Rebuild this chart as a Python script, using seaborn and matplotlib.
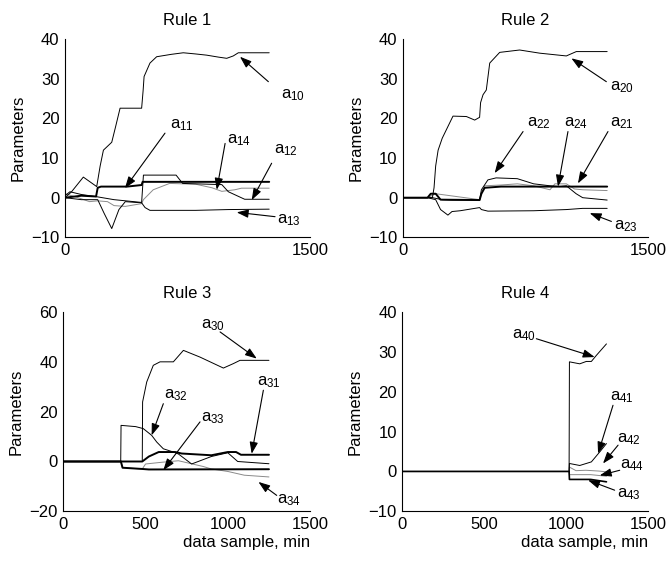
import matplotlib
matplotlib.use('Agg')
import matplotlib.pyplot as plt
import seaborn as sns
import pandas as pd

# ---- Rule 1 ----
a10_t = [0, 40, 112, 194, 215, 235, 286, 310, 337, 469, 478, 484, 520, 561, 650, 724, 800, 867, 940, 990, 1030, 1061, 1150, 1250]
a10_v = [0, 1.5, 5.2, 2.8, 8, 12, 14, 18, 22.6, 22.6, 27, 30.6, 34, 35.6, 36.2, 36.6, 36.3, 36, 35.5, 35.2, 35.8, 36.6, 36.6, 36.6]
a11_t = [0, 100, 190, 200, 220, 380, 469, 475, 1250]
a11_v = [0, 0.5, 0.3, 2.5, 2.8, 2.8, 3.2, 4, 4]
a12_t = [0, 30, 100, 200, 300, 469, 480, 680, 720, 960, 1000, 1100, 1250]
a12_v = [0.5, 1.5, 0.8, 0.2, -0.5, -1.2, 5.7, 5.7, 3.6, 3.3, 1.5, -0.4, -0.4]
a13_t = [0, 100, 200, 240, 286, 330, 369, 469, 490, 520, 800, 1000, 1250]
a13_v = [0, -0.5, -0.5, -4, -7.8, -3, -1, -1.3, -2.5, -3.2, -3.2, -3, -2.9]
a14_t = [0, 80, 150, 200, 260, 300, 369, 469, 480, 540, 640, 800, 900, 960, 1040, 1080, 1250]
a14_v = [1, 0, -1, -0.8, -1, -2, -2.2, -1.5, -0.5, 2, 3.6, 3.4, 2.5, 1.6, 2, 2.4, 2.4]

# ---- Rule 2 ----
a20_t = [0, 180, 190, 200, 215, 240, 306, 388, 439, 469, 475, 490, 510, 531, 592, 714, 837, 1000, 1061, 1250]
a20_v = [0, 0, 2.5, 8, 12, 15, 20.6, 20.5, 19.6, 20.3, 24, 26, 27.2, 34, 36.7, 37.3, 36.5, 35.8, 36.9, 36.9]
a21_t = [0, 150, 170, 200, 230, 469, 480, 500, 600, 1250]
a21_v = [0, 0, 1, 1, -0.5, -0.6, 1, 2.5, 2.8, 2.8]
a22_t = [0, 180, 240, 300, 469, 480, 520, 570, 700, 800, 900, 960, 1000, 1060, 1100, 1250]
a22_v = [0, 0, -0.5, -0.6, -0.6, 2, 4.5, 5, 4.8, 3.5, 3, 2.8, 3, 1, 0, -0.6]
a23_t = [0, 150, 200, 230, 275, 300, 350, 469, 480, 520, 800, 1000, 1100, 1250]
a23_v = [0, 0, -0.5, -3, -4.4, -3.5, -3.3, -2.5, -3, -3.4, -3.3, -3, -2.7, -2.7]
a24_t = [0, 150, 200, 469, 480, 500, 600, 700, 800, 900, 930, 1000, 1050, 1100, 1250]
a24_v = [0, 0, 1, -0.5, 1, 3, 3.2, 3.5, 3, 2, 3.5, 3.5, 2.2, 2, 1.8]

# ---- Rule 3 ----
a30_t = [0, 480, 482, 507, 547, 588, 669, 730, 831, 973, 1034, 1074, 1250]
a30_v = [0, 0, 23.9, 31.9, 38.6, 40, 40, 44.6, 41.9, 37.5, 39.3, 40.6, 40.6]
a31_t = [0, 480, 520, 580, 680, 720, 900, 1000, 1050, 1080, 1250]
a31_v = [0, 0, 2, 3.8, 3.8, 3.2, 2.5, 3.8, 3.8, 2.7, 2.7]
a32_t = [0, 349, 351, 440, 486, 537, 568, 608, 669, 700, 780, 900, 1000, 1060, 1250]
a32_v = [0, 0, 14.5, 14, 13.2, 10.5, 7.8, 5.1, 3.8, 3, -1, 2, 3.5, 0, -0.9]
a33_t = [0, 350, 360, 480, 520, 1250]
a33_v = [0, 0, -2.5, -3, -3.2, -3.1]
a34_t = [0, 350, 360, 480, 500, 600, 700, 850, 900, 1000, 1100, 1250]
a34_v = [0, 0, -2.5, -3, -1, -0.3, 0.3, -2, -3, -4, -5.5, -6.2]

# ---- Rule 4 ----
a40_t = [0, 1018, 1020, 1083, 1123, 1154, 1184, 1246]
a40_v = [0, 0, 27.5, 27, 27.6, 27.6, 29.1, 32]
a41_t = [0, 1018, 1020, 1083, 1154, 1205, 1246]
a41_v = [0, 0, 2, 1.5, 2.4, 4.9, 7]
a42_t = [0, 1018, 1020, 1060, 1120, 1200, 1246]
a42_v = [0, 0, 1.1, 0.2, 0.3, 0.1, -0.1]
a43_t = [0, 1018, 1020, 1150, 1246]
a43_v = [0, 0, -2, -2, -2.6]
a44_t = [0, 1018, 1020, 1150, 1246]
a44_v = [0, 0, -0.8, -0.8, -1.2]

# labels: (subscript, text position, arrow tail, arrow tip)
rule1_labels = [('10', (1320, 25.9), (1245, 29.3), (1071, 35.6)),
                ('11', (640, 18.4), (612, 16.3), (367, 2.4)),
                ('14', (990, 14.6), (980, 13.7), (929, 2.0)),
                ('12', (1280, 12.1), (1265, 8.7), (1143, -0.6)),
                ('13', (1300, -5.6), (1286, -4.8), (1051, -3.7))]
rule2_labels = [('20', (1270, 28.0), (1245, 29.3), (1031, 35.2)),
                ('22', (760, 18.8), (735, 16.7), (561, 6.2)),
                ('24', (985, 18.8), (1010, 16.7), (949, 2.8)),
                ('21', (1270, 18.8), (1255, 16.7), (1071, 3.6)),
                ('23', (1290, -7.3), (1276, -6.0), (1143, -3.9))]
rule3_labels = [('30', (835, 54.6), (953, 52), (1176, 41.3)),
                ('32', (610, 26.6), (608, 23.2), (537, 10.5)),
                ('33', (835, 17.2), (831, 15.9), (608, -3.5)),
                ('31', (1180, 31.9), (1216, 28.6), (1145, 3.1)),
                ('34', (1300, -15.6), (1297, -13.6), (1186, -8.2))]
rule4_labels = [('40', (670, 34.1), (818, 33.3), (1174, 28.7)),
                ('41', (1270, 18.7), (1286, 16.6), (1195, 4.5)),
                ('42', (1310, 8.2), (1317, 6.6), (1225, 2.0)),
                ('44', (1330, 1.5), (1327, 0.3), (1205, -1.0)),
                ('43', (1310, -5.6), (1296, -4.7), (1134, -2.2))]

sns.set_style('white')
plt.rcParams['font.family'] = ['Liberation Sans', 'DejaVu Sans']
plt.rcParams['mathtext.default'] = 'regular'
plt.rcParams['text.color'] = 'k'
plt.rcParams['axes.labelcolor'] = 'k'
plt.rcParams['xtick.color'] = 'k'
plt.rcParams['ytick.color'] = 'k'
fs = 12

fig = plt.figure(figsize=(6.67, 5.64), dpi=100)
ax1 = fig.add_axes([0.0975, 0.5793, 0.3673, 0.351])
ax2 = fig.add_axes([0.6042, 0.5793, 0.3673, 0.351])
ax3 = fig.add_axes([0.0949, 0.0934, 0.370, 0.3534])
ax4 = fig.add_axes([0.6032, 0.0934, 0.3684, 0.3534])


def draw(ax, t, v, color='k', lw=0.7):
    df = pd.DataFrame({'t': t, 'v': v})
    sns.lineplot(data=df, x='t', y='v', ax=ax, color=color, lw=lw, sort=False, estimator=None)


def label(ax, items):
    for sub, txt, tail, tip in items:
        ax.annotate('', xy=tip, xytext=tail,
                    arrowprops=dict(arrowstyle='-|>,head_length=0.7,head_width=0.25',
                                    color='k', lw=0.8, mutation_scale=10, shrinkA=0, shrinkB=0))
        ax.text(txt[0], txt[1], 'a$_{' + sub + '}$', fontsize=fs, ha='left', va='center', color='k')


gray = '#8a8a8a'
draw(ax1, a14_t, a14_v, color=gray)
draw(ax1, a10_t, a10_v)
draw(ax1, a12_t, a12_v)
draw(ax1, a13_t, a13_v)
draw(ax1, a11_t, a11_v, lw=1.4)
label(ax1, rule1_labels)

draw(ax2, a24_t, a24_v, color=gray)
draw(ax2, a20_t, a20_v)
draw(ax2, a22_t, a22_v)
draw(ax2, a23_t, a23_v)
draw(ax2, a21_t, a21_v, lw=1.4)
label(ax2, rule2_labels)

draw(ax3, a34_t, a34_v, color=gray)
draw(ax3, a30_t, a30_v)
draw(ax3, a32_t, a32_v)
draw(ax3, a33_t, a33_v, lw=1.4)
draw(ax3, a31_t, a31_v, lw=1.4)
label(ax3, rule3_labels)

draw(ax4, a42_t, a42_v, color=gray)
draw(ax4, a44_t, a44_v, color=gray)
draw(ax4, a41_t, a41_v)
draw(ax4, a43_t, a43_v, lw=1.2)
draw(ax4, a40_t, a40_v)
label(ax4, rule4_labels)

for i, ax in enumerate([ax1, ax2, ax3, ax4]):
    ax.set_title('Rule %d' % (i + 1), fontsize=fs, pad=10, color='k')
    ax.set_xlim(0, 1500)
    ax.set_ylabel('Parameters', fontsize=fs, labelpad=4)
    for s in ['top', 'right']:
        ax.spines[s].set_visible(False)
    for s in ['left', 'bottom']:
        ax.spines[s].set_color('k')
        ax.spines[s].set_linewidth(0.8)
    ax.tick_params(direction='in', length=2.5, width=0.8, labelsize=fs, color='k', labelcolor='k', pad=4)

for ax in [ax1, ax2]:
    ax.set_ylim(-10, 40)
    ax.set_xticks([0, 1500])
    ax.set_yticks([-10, 0, 10, 20, 30, 40])
    ax.set_xlabel('')
ax3.set_ylim(-20, 60)
ax3.set_yticks([-20, 0, 20, 40, 60])
ax4.set_ylim(-10, 40)
ax4.set_yticks([-10, 0, 10, 20, 30, 40])
for ax in [ax3, ax4]:
    ax.set_xticks([0, 500, 1000, 1500])
    ax.set_xlabel('data sample, min', fontsize=fs, loc='right', labelpad=2)

fig.savefig('out.png', dpi=100)
